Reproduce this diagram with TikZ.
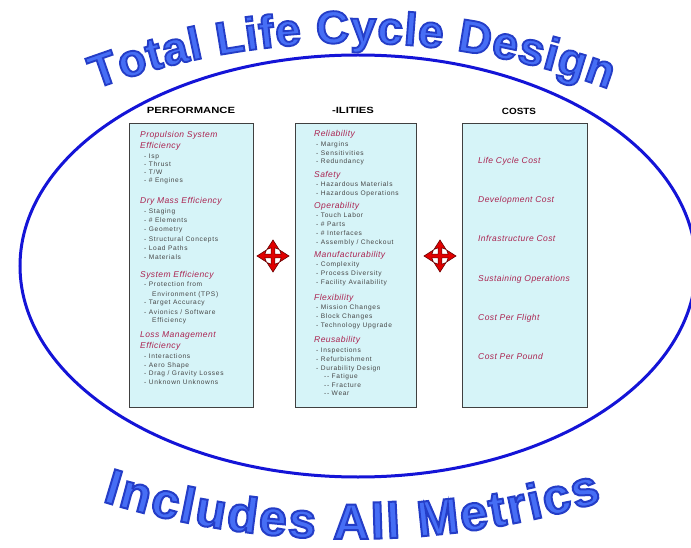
\documentclass[tikz,border=0pt]{standalone}
\usepackage{fontspec}
\setmainfont{Liberation Sans}
\newfontfamily\itemfnt[LetterSpace=10]{Liberation Sans}
\newfontfamily\catfnt[LetterSpace=5]{Liberation Sans}
\newfontfamily\wafnt[UprightFont=* Bold, FakeBold=4]{Liberation Sans}
\newcommand\edgestroke{\special{pdf:code 0.14 0.24 0.78 RG}}
\usetikzlibrary{decorations.text}
\definecolor{ringblue}{RGB}{20,20,215}
\definecolor{titleblue}{RGB}{70,110,245}
\definecolor{boxfill}{RGB}{214,244,248}
\definecolor{catred}{RGB}{170,35,80}
\definecolor{itemgray}{RGB}{70,70,70}
\definecolor{crossred}{RGB}{225,0,0}
\tikzset{
  panel/.style={draw=black!75, line width=1.1pt, fill=boxfill, inner sep=0pt, anchor=north west},
  hdr/.style={font=\bfseries\fontsize{9}{10}\selectfont, inner sep=0pt, anchor=base},
  cat/.style={font=\catfnt\itshape\fontsize{8.5}{10}\selectfont, text=catred, anchor=base west, inner sep=0pt},
  itm/.style={font=\itemfnt\fontsize{6.6}{8}\selectfont, text=itemgray, anchor=base west, inner sep=0pt},
  fourarrow/.pic={
    \draw[fill=crossred, draw=red!40!black, line width=0.6pt, line join=miter]
      (1.9,1.9) -- (1.9,8.2) -- (6,6.6) -- (0,16) -- (-6,6.6) -- (-1.9,8.2) --
      (-1.9,1.9) -- (-8.2,1.9) -- (-6.6,6) -- (-16,0) -- (-6.6,-6) -- (-8.2,-1.9) --
      (-1.9,-1.9) -- (-1.9,-8.2) -- (-6,-6.6) -- (0,-16) -- (6,-6.6) -- (1.9,-8.2) --
      (1.9,-1.9) -- (8.2,-1.9) -- (6.6,-6) -- (16,0) -- (6.6,6) -- (8.2,1.9) -- cycle;
  }
}
\begin{document}
\begin{tikzpicture}[x=1pt,y=-1pt]
\useasboundingbox (0,0) rectangle (691,548);
\fill[white] (0,0) rectangle (691,548);
\begin{scope}
\clip (0,0) rectangle (691,548);
\draw[ringblue, line width=3pt] (358,266) ellipse [x radius=338, y radius=211];
\end{scope}

% curved titles
\path[decorate, decoration={text along path, text align=fit to path,
  text={|\wafnt\fontsize{46}{50}\selectfont\color{titleblue}\edgestroke|Total Life Cycle Design}}]
  (352,783) ++(-110.3:740) arc[start angle=-110.3, end angle=-69.7, radius=740];
\path[decorate, decoration={text along path, text align=fit to path,
  text={|\wafnt\fontsize{50}{54}\selectfont\color{titleblue}\edgestroke|Includes All Metrics}}]
  (352,-311) ++(107.1:850) arc[start angle=107.1, end angle=72.9, radius=850];

% panels
\node[panel, minimum width=124pt, minimum height=284pt] (perf) at (129,123) {};
\node[panel, minimum width=121pt, minimum height=284pt] (ilit) at (295,123) {};
\node[panel, minimum width=125pt, minimum height=284pt] (cost) at (462,123) {};

\node[hdr] (hperf) at (191,114) {\scalebox{1.25}[1]{PERFORMANCE}};
\node[hdr] (hilit) at (353,114) {\scalebox{1.25}[1]{-ILITIES}};
\node[hdr] (hcost) at (519,115) {\scalebox{1.1}[1]{COSTS}};

% performance column
\foreach \xx/\yy/\txt [count=\i] in {
  140/138/Propulsion System, 140/149/Efficiency, 140/204/Dry Mass Efficiency,
  140/277/System Efficiency, 140/337/Loss Management, 140/348/Efficiency}
  {\node[cat] (pc\i) at (\xx,\yy) {\txt};}
\foreach \xx/\yy/\txt [count=\i] in {
  144/159/- Isp, 144/167/- Thrust, 144/175/{- T/W}, 144/183/- \# Engines,
  144/214/- Staging, 144/223/- \# Elements, 144/232/- Geometry,
  144/242/- Structural Concepts, 144/251/- Load Paths, 144/260/- Materials,
  144/287/- Protection from, 152/296/Environment (TPS), 144/305/- Target Accuracy,
  144/314/{- Avionics / Software}, 152/322/Efficiency,
  144/358/- Interactions, 144/367/- Aero Shape, 144/375/{- Drag / Gravity Losses},
  144/384/- Unknown Unknowns}
  {\node[itm] (pi\i) at (\xx,\yy) {\txt};}

% ilities column
\foreach \xx/\yy/\txt [count=\i] in {
  314/137/Reliability, 314/178/Safety, 314/209/Operability,
  314/258/Manufacturability, 314/300/Flexibility, 314/342/Reusability}
  {\node[cat] (ic\i) at (\xx,\yy) {\txt};}
\foreach \xx/\yy/\txt [count=\i] in {
  316/147/- Margins, 316/156/- Sensitivities, 316/164/- Redundancy,
  316/187/- Hazardous Materials, 316/196/- Hazardous Operations,
  316/218/- Touch Labor, 316/227/- \# Parts, 316/236/- \# Interfaces,
  316/245/{- Assembly / Checkout},
  316/267/- Complexity, 316/276/- Process Diversity, 316/284/- Facility Availability,
  316/309/- Mission Changes, 316/318/- Block Changes, 316/327/- Technology Upgrade,
  316/352/- Inspections, 316/361/- Refurbishment, 316/370/- Durability Design,
  324/378/-- Fatigue, 324/387/-- Fracture, 324/395/-- Wear}
  {\node[itm] (ii\i) at (\xx,\yy) {\txt};}

% costs column
\foreach \yy/\txt [count=\i] in {
  164/Life Cycle Cost, 203/Development Cost, 242/Infrastructure Cost,
  281/Sustaining Operations, 320/Cost Per Flight, 359/Cost Per Pound}
  {\node[cat] (cc\i) at (478,\yy) {\txt};}

% four-way arrows
\pic (xa) at (273,256) {fourarrow};
\pic (xb) at (440,256) {fourarrow};
\end{tikzpicture}
\end{document}
